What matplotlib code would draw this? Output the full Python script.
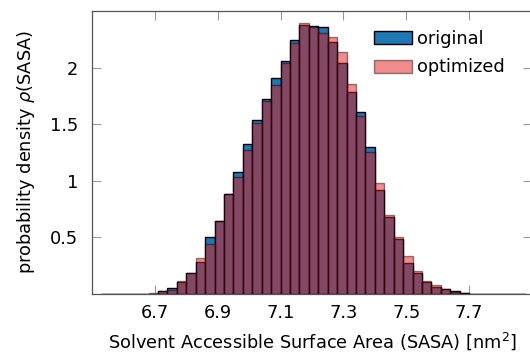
import matplotlib
matplotlib.use("Agg")
import matplotlib.pyplot as plt
import numpy as np

bin_left = [6.53, 6.56, 6.59, 6.62, 6.65, 6.68, 6.71, 6.74, 6.77, 6.80,
            6.83, 6.86, 6.89, 6.92, 6.95, 6.98, 7.01, 7.04, 7.07, 7.10,
            7.13, 7.16, 7.19, 7.22, 7.25, 7.28, 7.31, 7.34, 7.37, 7.40,
            7.43, 7.46, 7.49, 7.52, 7.55, 7.58, 7.61, 7.64, 7.67, 7.70,
            7.73, 7.76, 7.79, 7.82, 7.85]
bin_width = 0.03

original = [0.002, 0.002, 0.001, 0.001, 0.002, 0.004, 0.029, 0.056, 0.109, 0.183,
            0.283, 0.501, 0.642, 0.886, 1.082, 1.324, 1.534, 1.720, 1.907, 2.060,
            2.248, 2.375, 2.366, 2.360, 2.227, 2.041, 1.788, 1.611, 1.299, 0.918,
            0.682, 0.484, 0.276, 0.188, 0.105, 0.060, 0.042, 0.024, 0.009, 0.004,
            0.003, 0.002, 0.002, 0.001, 0.001]
optimized = [0.001, 0.002, 0.001, 0.001, 0.002, 0.005, 0.027, 0.036, 0.114, 0.184,
             0.317, 0.441, 0.645, 0.882, 1.032, 1.268, 1.511, 1.706, 1.845, 2.041,
             2.218, 2.390, 2.360, 2.307, 2.270, 2.140, 1.859, 1.569, 1.252, 0.977,
             0.700, 0.501, 0.334, 0.203, 0.112, 0.080, 0.042, 0.016, 0.008, 0.003,
             0.002, 0.002, 0.001, 0.001, 0.001]

xticks = [6.7, 6.9, 7.1, 7.3, 7.5, 7.7]
xticklabels = ["6.7", "6.9", "7.1", "7.3", "7.5", "7.7"]
yticks = [0.5, 1.0, 1.5, 2.0]
yticklabels = ["0.5", "1", "1.5", "2"]

plt.rcParams['font.family'] = ['DejaVu Sans']
plt.rcParams['mathtext.fontset'] = 'dejavusans'

FS = 12.8

fig = plt.figure(figsize=(5.3, 3.6), dpi=100)
ax = fig.add_axes([92/530, 66/360, 440/530, 283/360])

ax.bar(bin_left, original, width=bin_width, align='edge',
       color='#1f77b4', edgecolor='black', linewidth=1.0, label='original', zorder=2)
ax.bar(bin_left, optimized, width=bin_width, align='edge',
       color=(0.9, 0.1, 0.1, 0.5), edgecolor=(0, 0, 0, 0.45), linewidth=1.0,
       label='optimized', zorder=3)

ax.set_xlim(6.5, 7.9)
ax.set_ylim(0, 2.5)
ax.set_xticks(xticks)
ax.set_xticklabels(xticklabels)
ax.set_yticks(yticks)
ax.set_yticklabels(yticklabels)
ax.tick_params(direction='in', length=6.5, width=0.8, color='#999999',
               top=True, right=True, labelsize=FS)
ax.tick_params(axis='y', pad=10)
ax.tick_params(axis='x', pad=7)
for s in ax.spines.values():
    s.set_color('#555555')
    s.set_linewidth(0.9)

ax.set_xlabel('Solvent Accessible Surface Area (SASA) [nm$^2$]', fontsize=FS, labelpad=6)
ax.set_ylabel(r'probability density $\rho$(SASA)', fontsize=FS, labelpad=9)

leg = ax.legend(loc='upper right', bbox_to_anchor=(0.962, 0.972), frameon=False,
                fontsize=FS, handlelength=2.1, handleheight=0.75,
                handletextpad=0.3, labelspacing=0.6, borderaxespad=0.2)

fig.savefig('out.png', dpi=100)
